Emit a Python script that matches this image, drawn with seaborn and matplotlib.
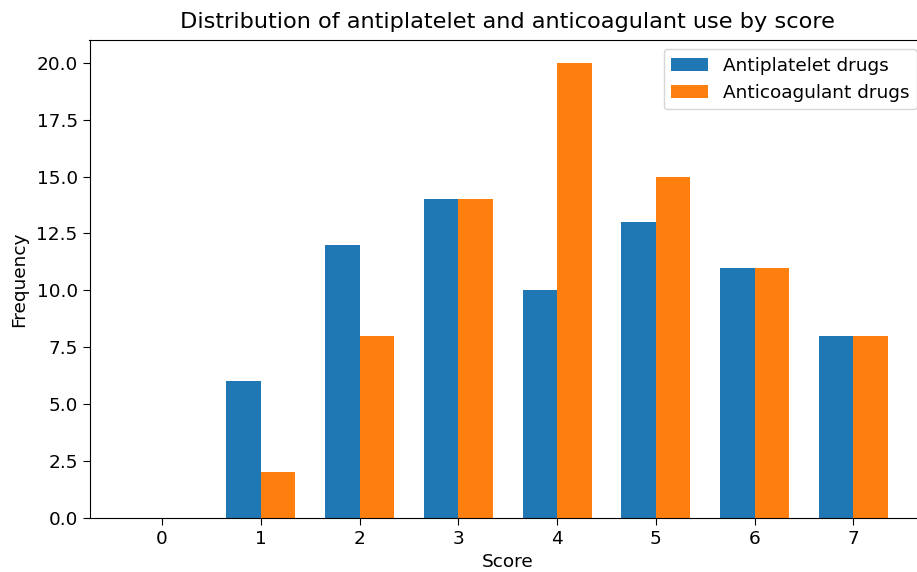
import matplotlib
matplotlib.use("Agg")
import matplotlib.pyplot as plt
import seaborn as sns
import pandas as pd

scores = [0, 1, 2, 3, 4, 5, 6, 7]
antiplatelet = [0, 6, 12, 14, 10, 13, 11, 8]
anticoagulant = [0, 2, 8, 14, 20, 15, 11, 8]
series_names = ["Antiplatelet drugs", "Anticoagulant drugs"]
colors = ["#1f77b4", "#ff7f0e"]

df = pd.DataFrame({
    "Score": scores * 2,
    "Frequency": antiplatelet + anticoagulant,
    "Drug": [series_names[0]] * len(scores) + [series_names[1]] * len(scores),
})

plt.rcParams["font.family"] = ["DejaVu Sans"]
fs = 13.3

fig = plt.figure(figsize=(9.17, 5.72), dpi=100)
ax = fig.add_axes([89.5 / 917, 1 - 518 / 572, (926 - 89.5) / 917, (518 - 40) / 572])

sns.barplot(data=df, x="Score", y="Frequency", hue="Drug", palette=colors,
            width=0.7, saturation=1, ax=ax, errorbar=None, gap=0)

ax.set_xlim(-0.735, 7.735)
ax.set_ylim(0, 21)
yt = [0, 2.5, 5, 7.5, 10, 12.5, 15, 17.5, 20]
ax.set_yticks(yt)
ax.set_yticklabels([f"{v:.1f}" for v in yt])
ax.set_xlabel("Score", fontsize=fs)
ax.set_ylabel("Frequency", fontsize=fs, labelpad=6)
ax.set_title("Distribution of antiplatelet and anticoagulant use by score", fontsize=16.2, pad=9)
ax.tick_params(labelsize=fs, length=5)
ax.legend(loc="upper right", fontsize=fs, title=None)

fig.savefig("out.png", dpi=100)
